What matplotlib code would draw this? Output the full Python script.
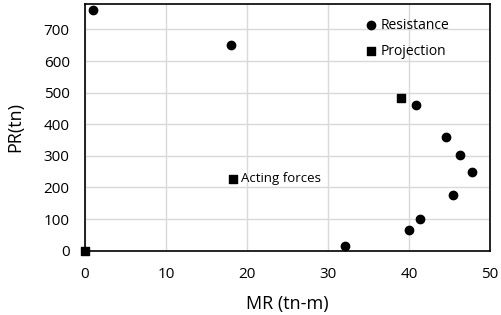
import matplotlib
matplotlib.use("Agg")
import matplotlib.pyplot as plt

plt.rcParams['font.family'] = ['Open Sans', 'DejaVu Sans']

# Resistance points
res_mr = [1.0, 18.0, 40.9, 44.6, 46.3, 47.8, 45.4, 41.4, 40.0, 32.1]
res_pr = [761, 651, 461, 359, 303, 250, 175, 100, 65, 15]

# Projection points
proj_mr = [39.0, 0.0]
proj_pr = [482, 0]

# Acting forces
act_mr = [18.3]
act_pr = [227]

fig = plt.figure(figsize=(5.02, 3.15), dpi=100)
ax = fig.add_axes([0.1693, 0.204, 0.807, 0.783])

ax.scatter(res_mr, res_pr, marker='o', s=36, color='black', label='Resistance', zorder=3, clip_on=False)
ax.scatter(proj_mr, proj_pr, marker='s', s=30, color='black', label='Projection', zorder=3, clip_on=False)
ax.scatter(act_mr, act_pr, marker='s', s=30, color='black', zorder=3, clip_on=False)
ax.text(act_mr[0] + 1.0, act_pr[0], 'Acting forces', fontsize=9.5, va='center', ha='left')

ax.set_xlim(0, 50)
ax.set_ylim(0, 780)
ax.set_xticks(range(0, 51, 10))
ax.set_yticks(range(0, 701, 100))
ax.tick_params(axis='y', length=0, labelsize=11, pad=11)
ax.tick_params(axis='x', length=0, labelsize=11, pad=12)
ax.grid(True, color='#d9d9d9', linewidth=1)
ax.set_axisbelow(True)
for s in ax.spines.values():
    s.set_color('black')
    s.set_linewidth(1.2)

ax.set_xlabel('MR (tn-m)', fontsize=13, labelpad=9)
ax.set_ylabel('PR(tn)', fontsize=13, labelpad=14)

ax.legend(loc='upper left', bbox_to_anchor=(0.655, 1.0), frameon=False, fontsize=10,
          handlelength=1.0, handletextpad=0.2, labelspacing=0.8, borderaxespad=0.6)

fig.savefig('out.png', dpi=100)
